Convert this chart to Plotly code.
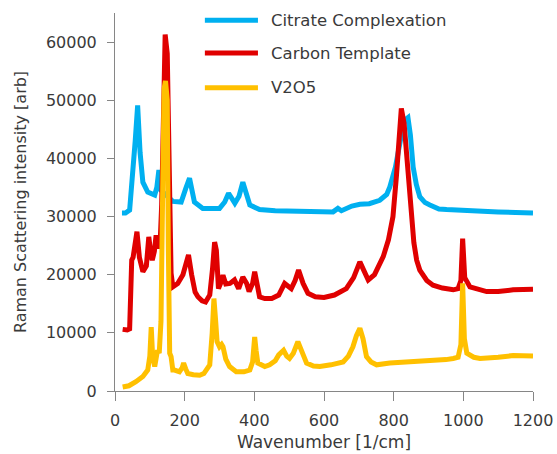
import plotly.graph_objects as go

# Raman spectra: wavenumber [1/cm] and intensity [arb] for each sample
citrate_x = [20, 30, 42, 51, 58, 65, 72, 80, 94, 114, 120, 126, 132,
             166, 190, 203, 214, 228, 252, 300, 315, 326, 336, 344, 356,
             367, 387, 415, 460, 520, 580, 626, 640, 650, 680, 703, 730,
             760, 780, 789, 805, 820, 830, 841, 848, 856, 865, 875, 890,
             904, 930, 952, 1000, 1050, 1100, 1150, 1200]
citrate_y = [30600, 30600, 31100, 36600, 43000, 49100, 41000, 35900, 34200,
             33700, 35000, 38000, 34500, 32600, 32500, 34800, 36600, 32500,
             31400, 31400, 32500, 34000, 33000, 32300, 33500, 35900, 32000,
             31200, 31000, 30900, 30900, 30800, 31400, 31000, 31800, 32100,
             32200, 32800, 33800, 35100, 38500, 43500, 46500, 47000, 44000,
             38500, 35500, 33400, 32400, 32000, 31300, 31200, 31000, 30900,
             30800, 30700, 30600]

carbon_x = [22, 35, 42, 48, 52, 58, 63, 70, 80, 90, 97, 103, 107, 113,
            118, 124, 130, 134, 139, 144, 150, 156, 161, 166, 180, 195,
            203, 211, 220, 230, 238, 250, 260, 272, 280, 286, 291, 297,
            303, 310, 318, 330, 343, 355, 367, 378, 385, 395, 401, 408,
            415, 430, 450, 470, 487, 506, 517, 527, 540, 554, 575, 600,
            630, 664, 685, 703, 715, 727, 745, 770, 785, 798, 808, 816,
            822, 830, 840, 850, 858, 866, 875, 895, 913, 940, 971, 985,
            993, 998, 1004, 1019, 1040, 1067, 1100, 1143, 1200]
carbon_y = [10600, 10500, 10700, 22500, 23000, 25500, 27400, 23000, 20500,
            21500, 26500, 23500, 22500, 24000, 26800, 24500, 26000, 32000,
            50000, 61300, 58000, 30000, 20300, 17900, 18500, 20000, 22000,
            23400, 20000, 17000, 16200, 15500, 15300, 16500, 21000, 25600,
            24200, 17600, 18500, 19900, 18400, 18500, 19100, 17600, 19600,
            18500, 17100, 18500, 20500, 17800, 16200, 15900, 15900, 16500,
            18500, 17600, 19000, 20800, 18500, 16800, 16200, 16100, 16500,
            17600, 19500, 22200, 20500, 19100, 20000, 23100, 26000, 30000,
            37000, 45000, 48600, 46000, 38000, 30000, 25500, 22500, 20800,
            19000, 18200, 17700, 17400, 17600, 19000, 26200, 19500, 17900,
            17500, 17100, 17100, 17400, 17500]

v2o5_x = [22, 40, 60, 80, 94, 100, 104, 108, 114, 118, 122, 127, 132,
          137, 141, 145, 150, 153, 157, 161, 166, 171, 185, 193, 197, 203,
          209, 225, 243, 255, 265, 272, 279, 284, 289, 293, 300, 306, 310,
          318, 329, 348, 370, 387, 395, 401, 405, 410, 430, 444, 460, 470,
          484, 493, 501, 512, 525, 535, 550, 570, 588, 620, 655, 670, 683,
          693, 703, 712, 722, 735, 751, 789, 830, 875, 920, 950, 971, 985,
          993, 998, 1003, 1010, 1030, 1048, 1100, 1143, 1200]
v2o5_y = [700, 900, 1600, 2500, 3600, 6000, 11000, 6000, 4200, 5300, 7000,
          6500, 12000, 35000, 52000, 53300, 50000, 25000, 6500, 5900, 3600,
          3600, 3300, 4000, 4800, 3800, 3000, 2800, 2700, 3000, 3800, 4500,
          10000, 15900, 12000, 8500, 7600, 8000, 7600, 5500, 4200, 3300,
          3300, 3600, 5000, 9300, 7000, 4800, 4200, 4500, 5200, 6200, 7000,
          6000, 5600, 6500, 8500, 7000, 4800, 4300, 4200, 4500, 5000, 6000,
          7600, 9500, 10800, 9000, 5900, 5000, 4500, 4800, 4900, 5000, 5200,
          5400, 5600, 5800, 8000, 18500, 9000, 6500, 5800, 5600, 5800, 6100,
          6000]

series_names = ["Citrate Complexation", "Carbon Template", "V2O5"]
series_colors = ["#00B0F0", "#E00000", "#FFC000"]

x_ticks = [0, 200, 400, 600, 800, 1000, 1200]
y_ticks = [0, 10000, 20000, 30000, 40000, 50000, 60000]

FONT = "DejaVu Sans"
TEXT = "#3a3a3a"
AXIS = "#868686"

fig = go.Figure()
for xs, ys, name, color in zip(
        [citrate_x, carbon_x, v2o5_x],
        [citrate_y, carbon_y, v2o5_y],
        series_names, series_colors):
    fig.add_trace(go.Scatter(
        x=xs, y=ys, mode="lines", name=name,
        line=dict(color=color, width=5),
        showlegend=False,
    ))

# Legend drawn as swatch lines with labels in the upper part of the plot
legend_y = [0.981, 0.894, 0.802]
for name, color, ly in zip(series_names, series_colors, legend_y):
    fig.add_shape(type="line", xref="paper", yref="paper",
                  x0=0.215, x1=0.342, y0=ly, y1=ly,
                  line=dict(color=color, width=5))
    fig.add_annotation(xref="paper", yref="paper", x=0.368, y=ly,
                       text=name, showarrow=False, xanchor="left",
                       yanchor="middle",
                       font=dict(family=FONT, size=16.5, color=TEXT))

fig.update_layout(
    width=557, height=454,
    margin=dict(l=115, r=24, t=13, b=63),
    paper_bgcolor="white", plot_bgcolor="white",
    font=dict(family=FONT, size=16, color=TEXT),
    xaxis=dict(
        range=[0, 1200], tickvals=x_ticks,
        ticktext=[str(v) for v in x_ticks],
        showgrid=False, zeroline=False, automargin=False,
        showline=True, linecolor=AXIS, linewidth=1,
        ticks="outside", ticklen=9, tickcolor=AXIS, tickwidth=1,
        ticklabelstandoff=6,
        title=dict(text="Wavenumber [1/cm]", standoff=6,
                   font=dict(family=FONT, size=17, color=TEXT)),
        tickfont=dict(family=FONT, size=16, color=TEXT),
    ),
    yaxis=dict(
        range=[0, 65000], tickvals=y_ticks,
        ticktext=[str(v) for v in y_ticks],
        showgrid=False, zeroline=False, automargin=False,
        showline=True, linecolor=AXIS, linewidth=1,
        ticks="outside", ticklen=7, tickcolor=AXIS, tickwidth=1,
        ticklabelstandoff=7,
        title=dict(text="Raman Scattering intensity [arb]", standoff=15,
                   font=dict(family=FONT, size=16, color=TEXT)),
        tickfont=dict(family=FONT, size=16, color=TEXT),
    ),
)

fig.write_html("out.html")
